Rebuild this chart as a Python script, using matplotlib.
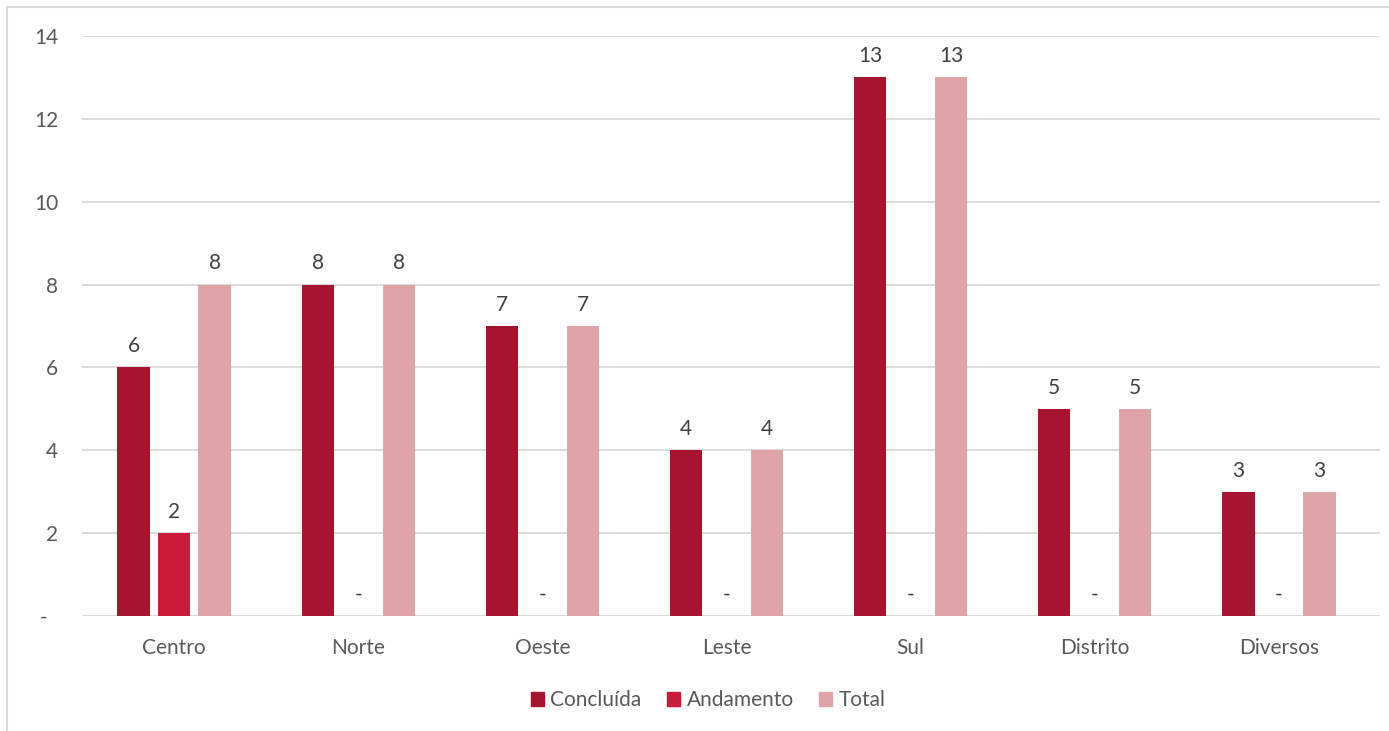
import matplotlib
matplotlib.use("Agg")
import matplotlib.pyplot as plt
import numpy as np
from matplotlib.patches import Rectangle
from matplotlib.lines import Line2D

categories = ["Centro", "Norte", "Oeste", "Leste", "Sul", "Distrito", "Diversos"]
concluida = [6, 8, 7, 4, 13, 5, 3]
andamento = [2, 0, 0, 0, 0, 0, 0]
total = [8, 8, 7, 4, 13, 5, 3]
series_names = ["Concluída", "Andamento", "Total"]
colors = ["#A6142E", "#CC1A3B", "#E0A3A8"]
yticks = [0, 2, 4, 6, 8, 10, 12, 14]

plt.rcParams['font.family'] = ['Lato', 'DejaVu Sans']
txt = "#595959"
fs = 15

fig = plt.figure(figsize=(13.89, 7.31), dpi=100)
ax = fig.add_axes([82/1389, 1-616/731, (1380-82)/1389, (616-36)/731])

x = np.arange(len(categories))
step = 0.22
w = 0.175
for i, (vals, c, n) in enumerate(zip([concluida, andamento, total], colors, series_names)):
    pos = x + (i - 1) * step
    ax.bar(pos, vals, width=w, color=c, label=n, zorder=3)
    for p, v in zip(pos, vals):
        lab = str(v) if v != 0 else "-"
        ax.annotate(lab, (p, v), xytext=(0, 8), textcoords="offset points",
                    ha="center", va="bottom", fontsize=fs, color="#404040")

ax.set_xlim(-0.5, len(categories) - 0.5 + 9/184)
ax.set_ylim(0, 14)
ax.set_yticks(yticks)
ax.set_yticklabels([str(t) if t != 0 else "-  " for t in yticks])
ax.set_xticks(x)
ax.set_xticklabels(categories)
ax.tick_params(axis='both', length=0, labelsize=fs, colors=txt)
ax.tick_params(axis='x', pad=16)
ax.tick_params(axis='y', pad=17)
ax.grid(axis='y', color="#D9D9D9", linewidth=1.3, zorder=0)
for s in ax.spines.values():
    s.set_visible(False)
ax.axhline(0, color="#D9D9D9", linewidth=1.3, zorder=2)

handles = [Rectangle((0, 0), 1, 1, color=c) for c in colors]
fig.legend(handles, series_names, loc="center", bbox_to_anchor=(708/1389, 1-700/731),
           ncol=3, frameon=False, fontsize=fs, handlelength=0.65, handleheight=0.65,
           handletextpad=0.3, columnspacing=1.2, labelcolor=txt)

# outer chart border
fig.add_artist(Line2D([7/1389, 7/1389], [0, 1-7/731], transform=fig.transFigure, color="#D9D9D9", lw=1.5))
fig.add_artist(Line2D([7/1389, 1], [1-7/731, 1-7/731], transform=fig.transFigure, color="#D9D9D9", lw=1.5))

fig.savefig("out.png", dpi=100)
